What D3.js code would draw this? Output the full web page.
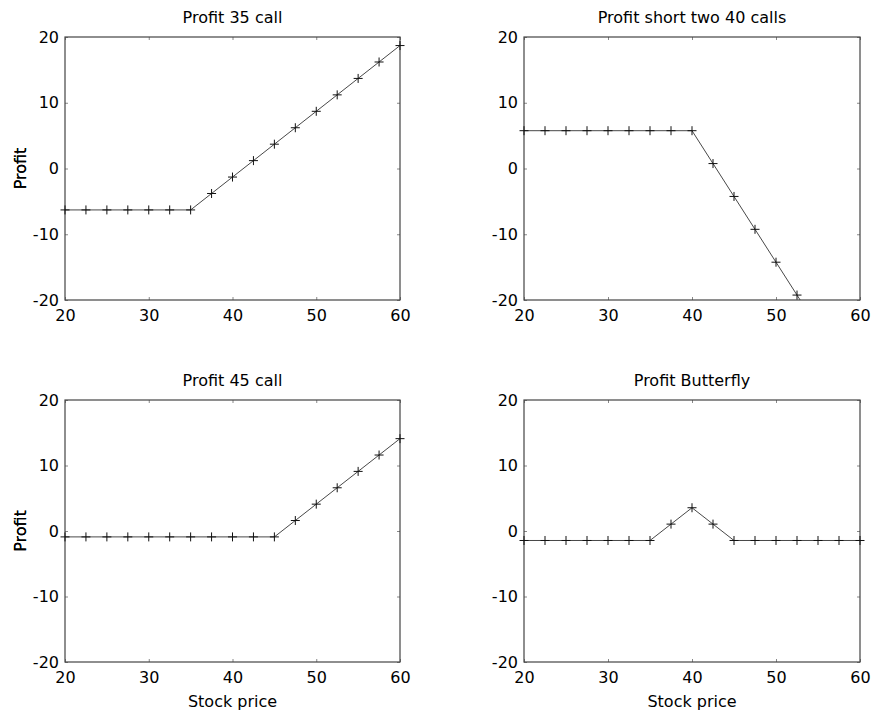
<!DOCTYPE html>
<html>
<head>
<meta charset="utf-8">
<script src="https://cdn.jsdelivr.net/npm/d3@7"></script>
<style>
  body { margin: 0; background: #fff; }
  text { font-family: "DejaVu Sans", sans-serif; font-size: 16px; fill: #000; }
</style>
</head>
<body>
<div id="chart"></div>
<script>
// stock prices at expiry
var stockPrice = [20, 22.5, 25, 27.5, 30, 32.5, 35, 37.5, 40, 42.5, 45, 47.5, 50, 52.5, 55, 57.5, 60];

// profit of each position
var profit35Call = [-6.3, -6.3, -6.3, -6.3, -6.3, -6.3, -6.3, -3.8, -1.3, 1.2, 3.7, 6.2, 8.7, 11.2, 13.7, 16.2, 18.7];
var profitShort40 = [5.75, 5.75, 5.75, 5.75, 5.75, 5.75, 5.75, 5.75, 5.75, 0.75, -4.25, -9.25, -14.25, -19.25, -24.25, -29.25, -34.25];
var profit45Call = [-0.9, -0.9, -0.9, -0.9, -0.9, -0.9, -0.9, -0.9, -0.9, -0.9, -0.9, 1.6, 4.1, 6.6, 9.1, 11.6, 14.1];
var profitButterfly = [-1.45, -1.45, -1.45, -1.45, -1.45, -1.45, -1.45, 1.05, 3.55, 1.05, -1.45, -1.45, -1.45, -1.45, -1.45, -1.45, -1.45];

var titles = ["Profit 35 call", "Profit short two 40 calls", "Profit 45 call", "Profit Butterfly"];
var series = [profit35Call, profitShort40, profit45Call, profitButterfly];

var xTicks = [20, 30, 40, 50, 60];
var yTicks = [-20, -10, 0, 10, 20];

var svgWidth = 871;
var svgHeight = 711;

// subplot boxes
var cols = [{ left: 65, right: 400 }, { left: 524, right: 860 }];
var rows = [{ top: 37, bottom: 300 }, { top: 400, bottom: 662 }];

var svg = d3.select("#chart")
    .append("svg")
    .attr("width", svgWidth)
    .attr("height", svgHeight);

series.forEach(function (values, i) {
    var col = cols[i % 2];
    var row = rows[Math.floor(i / 2)];
    var width = col.right - col.left;
    var height = row.bottom - row.top;

    var g = svg.append("g")
        .attr("transform", `translate(${col.left}, ${row.top})`);

    var x = d3.scaleLinear().domain([20, 60]).range([0, width]);
    var y = d3.scaleLinear().domain([-20, 20]).range([height, 0]);

    // clip for the line
    g.append("clipPath")
        .attr("id", "clip" + i)
        .append("rect")
        .attr("width", width)
        .attr("height", height);

    // inward ticks on all four sides, plain hyphen minus in labels
    var tickLen = 3;
    var fmt = d => String(d);
    g.append("g")
        .attr("transform", `translate(0, ${height})`)
        .call(d3.axisBottom(x).tickValues(xTicks).tickSizeInner(-tickLen).tickSizeOuter(0).tickPadding(10).tickFormat(fmt))
        .call(a => a.select(".domain").remove());
    g.append("g")
        .call(d3.axisTop(x).tickValues(xTicks).tickSizeInner(-tickLen).tickSizeOuter(0).tickFormat(""))
        .call(a => a.select(".domain").remove());
    g.append("g")
        .call(d3.axisLeft(y).tickValues(yTicks).tickSizeInner(-tickLen).tickSizeOuter(0).tickPadding(6).tickFormat(fmt))
        .call(a => a.select(".domain").remove());
    g.append("g")
        .attr("transform", `translate(${width}, 0)`)
        .call(d3.axisRight(y).tickValues(yTicks).tickSizeInner(-tickLen).tickSizeOuter(0).tickFormat(""))
        .call(a => a.select(".domain").remove());

    g.selectAll(".tick line").attr("stroke", "#888");
    g.selectAll(".tick text")
        .style("font-family", "'DejaVu Sans', sans-serif")
        .style("font-size", "16px")
        .attr("fill", "#000");

    // box
    g.append("rect")
        .attr("width", width)
        .attr("height", height)
        .attr("fill", "none")
        .attr("stroke", "#444")
        .attr("stroke-width", 1.2);

    var pts = stockPrice.map(function (s, k) { return { s: s, p: values[k] }; });

    var line = d3.line()
        .x(d => x(d.s))
        .y(d => y(d.p));

    g.append("path")
        .datum(pts)
        .attr("clip-path", `url(#clip${i})`)
        .attr("d", line)
        .attr("fill", "none")
        .attr("stroke", "#333")
        .attr("stroke-width", 0.9);

    // plus markers (only points inside the y range)
    var m = 4.5;
    g.selectAll(".marker")
        .data(pts.filter(d => d.p >= -20 && d.p <= 20))
        .enter()
        .append("path")
        .attr("class", "marker")
        .attr("d", d => `M${x(d.s) - m},${y(d.p)}H${x(d.s) + m}M${x(d.s)},${y(d.p) - m}V${y(d.p) + m}`)
        .attr("stroke", "#111")
        .attr("stroke-width", 1);

    // title
    g.append("text")
        .attr("x", width / 2)
        .attr("y", -14)
        .attr("text-anchor", "middle")
        .text(titles[i]);

    // y label
    g.append("text")
        .attr("transform", `translate(${26 - col.left}, ${height / 2}) rotate(-90)`)
        .attr("text-anchor", "middle")
        .text("Profit");

    // x label on bottom row only
    if (i >= 2) {
        g.append("text")
            .attr("x", width / 2)
            .attr("y", height + 45)
            .attr("text-anchor", "middle")
            .text("Stock price");
    }
});
</script>
</body>
</html>
